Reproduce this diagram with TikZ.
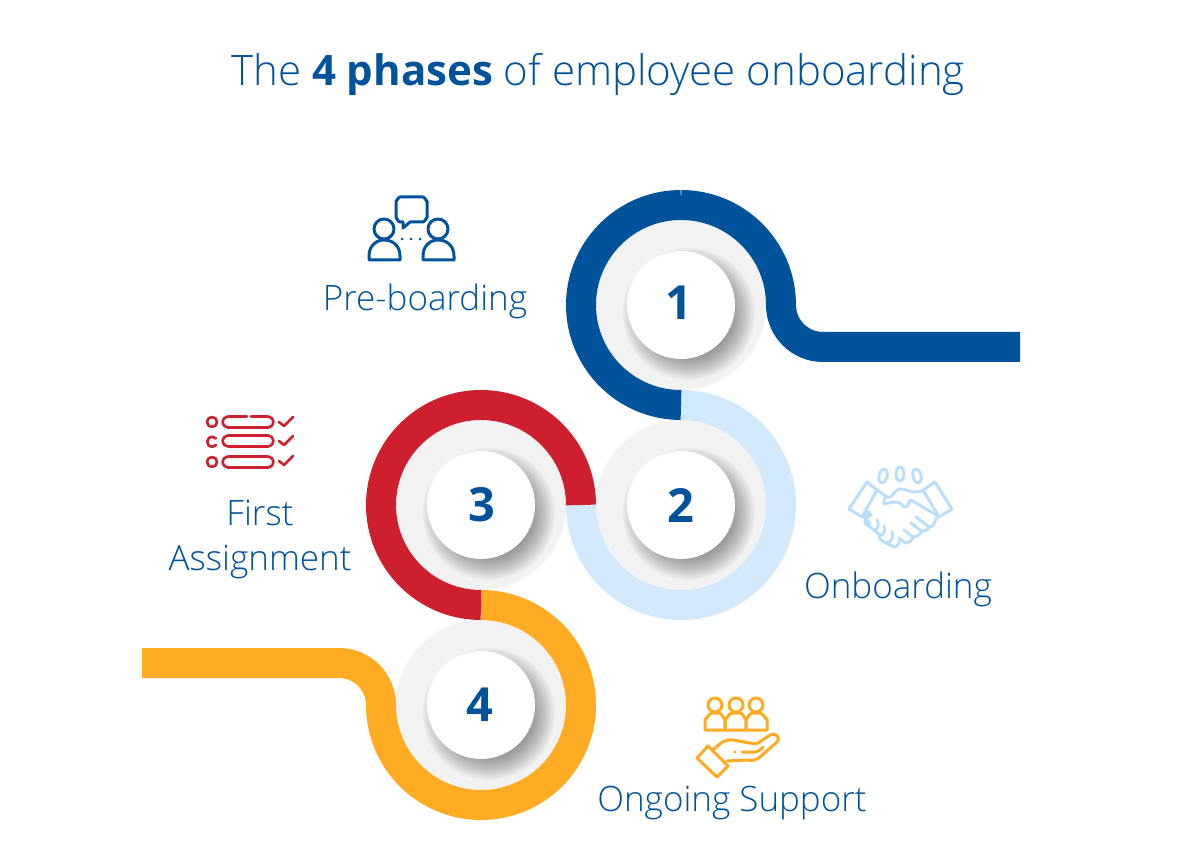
\documentclass[tikz,border=0pt]{standalone}
\usepackage{fontspec}
\setmainfont{Open Sans Light}[BoldFont={Open Sans Bold}]
\definecolor{bluec}{HTML}{00539B}
\definecolor{lightc}{HTML}{D2E9FC}
\definecolor{redc}{HTML}{CE1F2E}
\definecolor{orangec}{HTML}{FFAB24}
\definecolor{grayc}{HTML}{F2F2F2}
\definecolor{iconlight}{HTML}{BBDEFB}
\tikzset{
  ring/.style={line width=30pt,line cap=butt},
  lab/.style={text=bluec,font=\fontsize{35}{40}\selectfont,inner sep=0pt,align=center},
  num/.style={text=bluec,font=\fontsize{47}{50}\selectfont\bfseries,inner sep=0pt},
  icon/.style={line width=3pt,line cap=round,line join=round},
  disc/.pic={
    \fill[grayc] (0,0) circle[radius=85];
    \begin{scope}
      \clip (0,0) circle[radius=85];
      \foreach \r in {42,44,...,66}{
        \fill[black,opacity=0.035] (8,9) circle[radius=\r];
      }
    \end{scope}
    \fill[white] (0,0) circle[radius=54];
  }
}
\begin{document}
\begin{tikzpicture}[x=1pt,y=-1pt]
\useasboundingbox (0,0) rectangle (1200,866);
\fill[white] (0,0) rectangle (1200,866);
\coordinate (c1) at (681,305);
\coordinate (c2) at (681,505);
\coordinate (c3) at (481,505);
\coordinate (c4) at (481,705);
\path (c1) pic {disc};
\path (c2) pic {disc};
\path (c3) pic {disc};
\path (c4) pic {disc};
% rings (y axis flipped: angles run clockwise on screen)
\draw[ring,lightc] (681,405) arc[start angle=-90,end angle=180,radius=100];
\draw[ring,bluec] (681,405) arc[start angle=90,end angle=270,radius=100];
\draw[ring,bluec] (681,205) arc[start angle=-90,end angle=0,radius=100]
   arc[start angle=180,end angle=90,radius=42] -- (1020,347);
\draw[ring,orangec] (481,605) arc[start angle=-90,end angle=180,radius=100]
   arc[start angle=0,end angle=-90,radius=42] -- (142,663);
\draw[ring,redc] (581,505) arc[start angle=0,end angle=-270,radius=100];
% numbers
\node[num] (n1) at (679,303) {1};
\node[num] (n2) at (681,505) {2};
\node[num] (n3) at (482,505) {3};
\node[num] (n4) at (480,705) {4};
% title and labels
\node[text=bluec,font=\fontsize{42}{50}\selectfont,inner sep=0pt] (title) at (598,74) {The \textbf{4 phases} of employee onboarding};
\node[lab] (l1) at (425,301) {Pre-boarding};
\node[lab] (l3a) at (260,513) {First};
\node[lab] (l3b) at (260,562) {Assignment};
\node[lab] (l2) at (898,589) {Onboarding};
\node[lab] (l4) at (732,803) {Ongoing Support};
% icon 1: two people and a speech bubble
\begin{scope}[icon,draw=bluec]
  \draw (400,197) -- (423,197) to[out=0,in=-90] (427,201) -- (427,218) to[out=90,in=0] (423,222)
     -- (410,222) -- (403,228) -- (403,222) -- (400,222) to[out=180,in=90] (396,218) -- (396,201) to[out=-90,in=180] cycle;
  \draw (384,229) circle[radius=10];
  \draw (438,229) circle[radius=10];
  \draw (369,260) -- (369,256) .. controls (369,246) and (376,240) .. (384,240) .. controls (393,240) and (400,246) .. (400,256) -- (400,260) -- cycle;
  \draw (423,260) -- (423,256) .. controls (423,246) and (430,240) .. (438,240) .. controls (447,240) and (454,246) .. (454,256) -- (454,260) -- cycle;
  \fill[bluec] (402,239) circle[radius=1.5] (411,239) circle[radius=1.5] (420,239) circle[radius=1.5];
\end{scope}
% icon 2: checklist
\begin{scope}[icon,draw=redc,line width=2.6pt]
  \draw (212,422) circle[radius=5];
  \draw (216,438.5) arc[start angle=-40,end angle=-320,radius=5];
  \draw (212,462) circle[radius=5];
  \draw (247,416.5) -- (228,416.5) arc[start angle=-90,end angle=-270,radius=5.5] -- (268,427.5) arc[start angle=90,end angle=-90,radius=5.5] -- (251,416.5);
  \draw (228,435.5) -- (268,435.5) arc[start angle=-90,end angle=90,radius=5.5] -- (228,446.5) arc[start angle=90,end angle=270,radius=5.5];
  \draw (228,456.5) -- (268,456.5) arc[start angle=-90,end angle=90,radius=5.5] -- (228,467.5) arc[start angle=90,end angle=270,radius=5.5];
  \draw (279,422) -- (284,426) -- (293,417);
  \draw (279,441) -- (284,445) -- (293,436);
  \draw (279,461) -- (284,465) -- (293,456);
\end{scope}
% icon 3: handshake
\begin{scope}[icon,draw=iconlight]
  \draw (849,509) -- (867,482) -- (877,490) -- (862,517) -- cycle;
  \draw (923,490) -- (935,482) -- (952,509) -- (939,517) -- cycle;
  \draw[rotate around={-15:(883,476)}] (883,476) ellipse[x radius=4,y radius=7];
  \draw (900,474) ellipse[x radius=4,y radius=7];
  \draw[rotate around={15:(917,476)}] (917,476) ellipse[x radius=4,y radius=7];
  \draw (877,490) -- (887,497) to[out=-30,in=180] (900,489) to[out=0,in=180] (915,492) -- (923,491);
  \draw (887,497) to[out=160,in=-150] (885,504) to[out=20,in=180] (897,502) to[out=0,in=180] (906,507) to[out=0,in=-170] (911,500) -- (938,516);
  \draw (866,511) -- (871,515);
  \draw (870,512) to[out=-150,in=170] (865,518) -- (870,524);
  \draw (871,515) to[out=-160,in=150] (866,524) -- (874,530) to[out=-20,in=-50] (877,520);
  \draw (874,530) -- (880,535) to[out=-10,in=-60] (884,526);
  \draw (880,535) to[out=150,in=-110] (881,540) -- (886,543) to[out=0,in=-60] (892,532);
  \draw (886,543) -- (894,547) to[out=0,in=-70] (899,538) -- (905,543) to[out=10,in=-90] (913,537) -- (904,530);
  \draw (913,537) to[out=10,in=-90] (921,531) -- (911,523);
  \draw (921,531) to[out=0,in=-100] (929,527) -- (916,517);
  \draw (929,527) to[out=-10,in=-120] (937,517);
\end{scope}
% icon 4: people and hand
\begin{scope}[icon,draw=orangec]
  \draw (715,705) circle[radius=7] (736,705) circle[radius=7] (756,705) circle[radius=7];
  \draw (705,730) -- (705,719) to[out=-90,in=180] (712,713) -- (719,713) to[out=0,in=-90] (725,719) -- (725,730) -- cycle;
  \draw (725,730) -- (725,719) to[out=-90,in=180] (732,713) -- (740,713) to[out=0,in=-90] (746,719) -- (746,730) -- cycle;
  \draw (746,730) -- (746,719) to[out=-90,in=180] (752,713) -- (760,713) to[out=0,in=-90] (767,719) -- (767,730) -- cycle;
  \draw (697,758) -- (708,746) -- (728,766) -- (717,777) -- cycle;
  \draw (713,750) .. controls (722,741) and (727,739) .. (733,740) -- (750,743) .. controls (755,744) and (758,744) .. (761,741) -- (770,735) .. controls (775,732) and (781,737) .. (777,742) -- (760,757) .. controls (756,760) and (752,761) .. (747,760) -- (727,761);
  \draw (742,752) -- (754,752) .. controls (758,752) and (760,750) .. (763,747);
  \fill[orangec] (735,752) circle[radius=1.6];
\end{scope}
\end{tikzpicture}
\end{document}
